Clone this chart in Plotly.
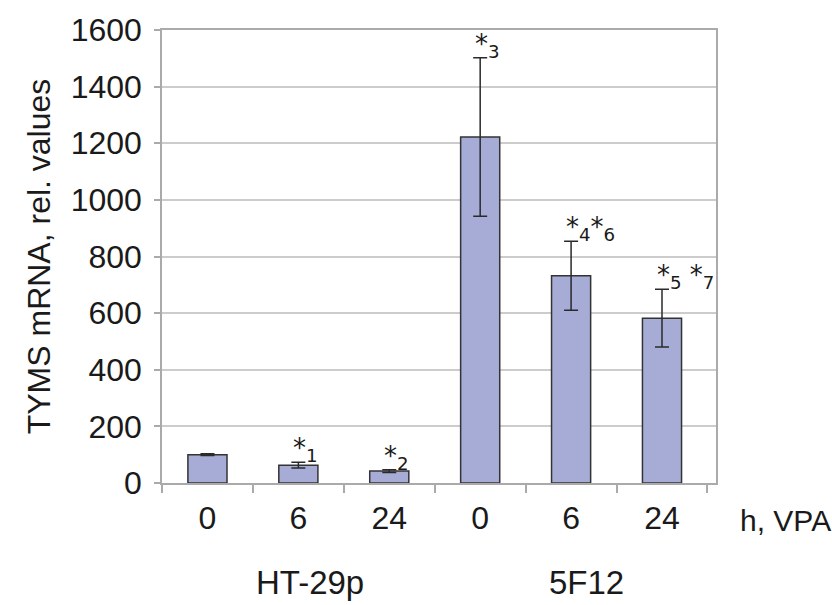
import plotly.graph_objects as go

groups = ["HT-29p", "HT-29p", "HT-29p", "5F12", "5F12", "5F12"]
hours = ["0", "6", "24", "0", "6", "24"]
values = [100, 63, 42, 1222, 732, 582]
errors = [3, 10, 5, 280, 122, 102]
marks = ["", "*<sub>1</sub>", "*<sub>2</sub>", "*<sub>3</sub>",
         "*<sub>4</sub>*<sub>6</sub>", "*<sub>5</sub> *<sub>7</sub>"]
group_names = ["HT-29p", "5F12"]
axis_unit = "h, VPA"
y_title = "TYMS mRNA, rel. values"

cats = [f"{g} {h}" for g, h in zip(groups, hours)]

fig = go.Figure()
fig.add_trace(go.Bar(
    x=cats, y=values,
    marker=dict(color="#a7acd6", line=dict(color="#333333", width=1.5)),
    width=0.43,
    error_y=dict(type="data", array=errors, visible=True,
                 color="#2a2a2a", thickness=1.5, width=7),
    showlegend=False,
))

for c, v, e, m in zip(cats, values, errors, marks):
    if m:
        fig.add_annotation(x=c, y=v + e, text=m, showarrow=False,
                           xanchor="left", yanchor="bottom", xshift=-7, yshift=-6,
                           font=dict(family="DejaVu Sans", size=26, color="#1a1a1a"))

font_main = "Liberation Sans, Arial, sans-serif"
fig.update_layout(
    width=832, height=605,
    margin=dict(l=162, r=116, t=26, b=122),
    paper_bgcolor="white", plot_bgcolor="white",
    font=dict(family=font_main, size=32, color="#1a1a1a"),
    bargap=0.57,
)
fig.update_xaxes(
    type="category", tickvals=cats, ticktext=hours,
    tickson="boundaries", ticks="outside", ticklen=8, tickcolor="#aaaaaa", tickwidth=1.5,
    showline=True, linecolor="#aaaaaa", linewidth=1.5, mirror=True,
    showgrid=False, tickfont=dict(size=32), ticklabelstandoff=6,
)
fig.update_yaxes(
    range=[0, 1600], dtick=200, ticks="outside", ticklen=6, tickcolor="#aaaaaa", tickwidth=1.5,
    showline=True, linecolor="#aaaaaa", linewidth=1.5, mirror=True,
    showgrid=True, gridcolor="#cccccc", gridwidth=1.5, zeroline=False,
    tickfont=dict(size=32), ticklabelstandoff=6,
    title=dict(text=y_title, font=dict(size=32), standoff=10),
)

fig.add_annotation(x=1.04, y=-0.083, xref="paper", yref="paper", text=axis_unit,
                   showarrow=False, xanchor="left", yanchor="middle",
                   font=dict(size=30))
fig.add_annotation(x=0.267, y=-0.219, xref="paper", yref="paper",
                   text=group_names[0], showarrow=False, xanchor="center", yanchor="middle",
                   font=dict(size=33))
fig.add_annotation(x=0.767, y=-0.219, xref="paper", yref="paper",
                   text=group_names[1], showarrow=False, xanchor="center", yanchor="middle",
                   font=dict(size=33))

fig.write_html("out.html", config={"displayModeBar": False},
               post_script="document.body.style.margin='0px';document.body.style.overflow='hidden';")
